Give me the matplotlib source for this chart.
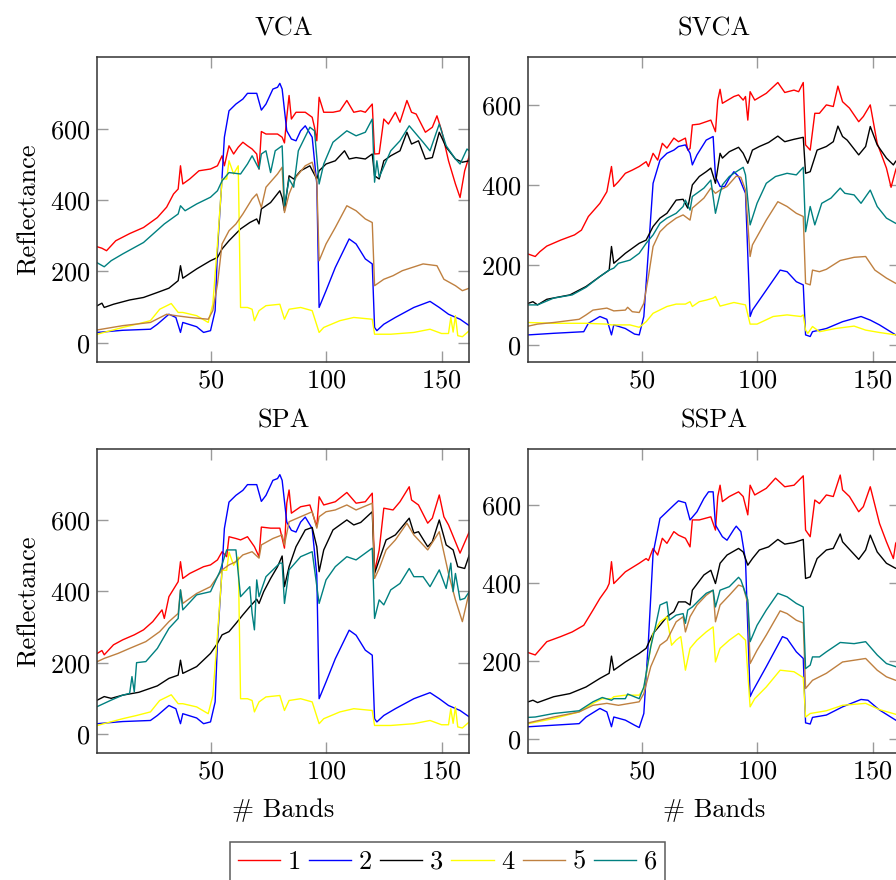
import matplotlib
matplotlib.use("Agg")
import matplotlib.pyplot as plt

# ---------------- data: (band, reflectance) ----------------
VCA_1 = [(1,269),(3,265),(5,258),(9,286),(15,306),(21,323),(27,351),(31,380),(34,417),(36,431),(37,496),(38,445),(41,459),(45,482),(50,487),(53,496),(55,524),(56,496),(58,552),(60,529),(62,548),(64,562),(66,552),(68,543),(70,529),(71,487),(72,592),(74,585),(79,585),(81,576),(82,560),(83,632),(84,693),(85,627),(87,646),(91,646),(94,632),(95,604),(96,566),(97,688),(99,646),(103,646),(106,650),(109,679),(112,646),(115,650),(117,646),(120,669),(121,529),(123,530),(125,627),(127,613),(130,646),(132,618),(135,679),(137,646),(139,641),(143,590),(146,604),(148,636),(150,595),(153,510),(156,445),(158,407),(160,482),(162,524)]
VCA_2 = [(1,29),(12,35),(24,38),(27,52),(32,80),(35,71),(37,29),(38,57),(44,45),(47,29),(50,34),(52,90),(53,258),(55,464),(56,576),(58,650),(61,669),(64,683),(66,699),(70,699),(72,652),(74,669),(77,711),(79,716),(80,727),(81,711),(83,594),(85,571),(87,566),(89,594),(91,608),(94,576),(96,445),(97,99),(100,146),(104,211),(110,291),(113,277),(117,235),(120,221),(121,43),(122,34),(125,52),(130,71),(138,99),(145,116),(149,99),(153,80),(158,66),(162,48)]
VCA_3 = [(1,104),(3,111),(4,99),(8,108),(15,120),(21,127),(27,141),(32,153),(36,174),(37,216),(38,181),(44,207),(50,230),(53,239),(55,263),(58,286),(63,319),(67,337),(70,347),(71,333),(72,375),(76,393),(80,426),(81,407),(82,370),(84,468),(86,459),(89,482),(93,496),(96,459),(97,482),(100,501),(104,510),(108,538),(110,515),(113,519),(117,515),(120,529),(121,468),(123,459),(125,510),(128,524),(132,538),(135,590),(137,557),(140,566),(143,515),(146,519),(149,590),(152,548),(156,515),(159,506),(162,510)]
VCA_4 = [(1,24),(12,43),(18,52),(24,62),(28,94),(33,110),(36,85),(38,85),(44,76),(49,57),(51,108),(53,277),(55,459),(57,459),(58,510),(60,473),(62,496),(63,99),(66,99),(68,94),(69,62),(71,90),(74,104),(80,108),(82,66),(84,94),(89,99),(94,90),(97,29),(99,43),(106,62),(112,71),(120,66),(121,24),(128,24),(138,29),(145,38),(150,26),(153,26),(154,71),(155,30),(156,76),(157,20),(159,17),(162,34)]
VCA_5 = [(1,36),(12,48),(24,57),(31,80),(35,76),(41,71),(49,66),(51,90),(53,164),(55,277),(58,314),(61,333),(64,361),(68,403),(70,417),(72,379),(74,436),(79,473),(81,492),(82,365),(84,417),(87,464),(91,496),(94,506),(96,454),(97,230),(100,277),(104,323),(109,384),(113,370),(117,347),(120,337),(121,160),(125,178),(129,188),(133,202),(142,221),(148,216),(151,178),(156,160),(159,146),(162,153)]
VCA_6 = [(1,224),(4,213),(7,230),(12,249),(21,281),(30,333),(36,361),(37,384),(39,370),(44,389),(50,408),(53,426),(55,454),(58,477),(63,473),(66,501),(68,524),(71,487),(72,529),(74,538),(76,477),(78,538),(81,552),(82,384),(84,459),(86,436),(88,538),(93,604),(95,594),(97,445),(99,501),(103,562),(109,594),(113,580),(117,590),(120,627),(121,450),(122,510),(123,464),(128,538),(132,566),(136,608),(139,585),(142,562),(145,538),(149,613),(152,552),(156,515),(158,501),(161,543),(162,538)]

SVCA_1 = [(1,228),(4,222),(6,234),(9,248),(15,263),(21,276),(24,288),(27,322),(32,355),(35,384),(37,447),(38,397),(40,409),(43,430),(46,438),(49,447),(52,459),(53,447),(55,480),(57,463),(59,505),(61,493),(64,518),(66,509),(69,518),(70,488),(71,492),(72,551),(75,553),(78,559),(80,563),(82,534),(83,613),(84,640),(85,605),(90,622),(92,626),(94,613),(95,622),(96,563),(97,634),(99,613),(104,630),(109,657),(112,632),(116,638),(118,634),(120,657),(121,501),(123,488),(125,580),(127,580),(130,601),(133,597),(135,648),(137,609),(140,593),(144,559),(146,572),(149,601),(152,505),(156,443),(158,395),(160,438),(162,470)]
SVCA_2 = [(1,26),(12,30),(25,34),(27,55),(32,72),(35,65),(37,26),(38,51),(43,42),(47,28),(49,26),(51,72),(53,238),(55,405),(58,463),(61,480),(64,488),(66,497),(69,501),(71,480),(72,451),(74,476),(78,513),(81,522),(82,422),(84,397),(86,397),(88,418),(90,434),(92,422),(95,380),(97,72),(98,88),(104,138),(110,188),(113,184),(117,159),(120,151),(121,26),(123,22),(124,34),(130,42),(137,59),(145,72),(149,63),(153,51),(160,26),(162,24)]
SVCA_3 = [(1,105),(3,109),(5,101),(9,115),(19,126),(26,147),(32,172),(36,188),(37,247),(38,205),(43,230),(49,255),(52,263),(55,297),(58,318),(61,330),(65,363),(68,365),(70,343),(72,401),(75,422),(78,434),(80,443),(82,405),(84,480),(85,468),(88,484),(92,495),(94,480),(96,455),(98,488),(101,497),(105,507),(109,523),(112,509),(116,515),(120,520),(121,430),(123,434),(126,488),(130,497),(133,509),(135,548),(137,522),(139,513),(144,476),(147,497),(149,547),(152,501),(156,468),(159,451),(160,460),(162,470)]
SVCA_4 = [(1,57),(12,55),(26,55),(35,53),(37,51),(45,51),(49,45),(52,59),(55,80),(61,97),(65,103),(69,103),(71,109),(72,97),(75,109),(78,113),(81,118),(82,122),(84,98),(90,107),(95,101),(97,53),(100,53),(107,72),(113,76),(119,72),(120,76),(121,38),(122,30),(124,47),(127,34),(134,42),(142,48),(147,38),(153,32),(160,26),(162,24)]
SVCA_5 = [(1,48),(5,53),(12,57),(23,65),(26,76),(29,88),(35,93),(38,86),(43,88),(44,95),(46,84),(49,82),(51,105),(53,172),(55,247),(58,284),(61,301),(65,318),(68,326),(71,313),(72,343),(77,368),(80,393),(82,380),(84,388),(87,397),(91,423),(93,420),(95,388),(97,222),(98,251),(104,313),(109,359),(113,347),(117,330),(120,322),(121,155),(123,151),(124,188),(127,184),(130,190),(136,212),(142,220),(147,222),(151,188),(156,168),(160,155),(162,150)]
SVCA_6 = [(1,101),(5,101),(12,118),(20,126),(26,145),(32,172),(36,188),(38,193),(40,205),(45,213),(49,230),(52,255),(55,276),(58,305),(61,318),(65,330),(68,347),(69,363),(71,338),(72,372),(77,393),(80,413),(82,330),(84,380),(85,401),(88,422),(91,434),(94,445),(95,426),(97,301),(100,355),(104,405),(108,422),(113,430),(117,426),(120,445),(121,284),(123,347),(125,301),(128,355),(132,368),(136,393),(138,380),(142,376),(145,355),(149,388),(152,347),(156,318),(160,305),(162,300)]

SPA_1 = [(1,226),(3,234),(4,222),(8,250),(12,264),(17,278),(21,292),(25,315),(29,348),(30,324),(32,385),(36,427),(37,483),(38,436),(41,450),(47,469),(50,474),(53,488),(55,511),(57,497),(58,553),(61,548),(63,544),(66,553),(69,525),(71,497),(72,580),(76,577),(80,577),(82,521),(83,647),(84,684),(85,619),(89,637),(93,642),(96,581),(97,665),(99,642),(104,651),(109,677),(113,647),(117,651),(120,675),(121,455),(123,516),(125,633),(129,628),(132,651),(136,693),(137,656),(140,642),(144,591),(146,605),(149,670),(151,609),(153,586),(158,507),(162,567)]
SPA_2 = VCA_2
SPA_3 = [(1,95),(4,105),(7,100),(12,109),(19,117),(27,135),(32,156),(36,165),(37,207),(38,170),(44,189),(50,226),(53,254),(55,278),(58,287),(61,310),(64,334),(67,357),(70,378),(71,366),(73,399),(76,436),(79,469),(81,499),(82,413),(84,469),(87,525),(91,572),(94,579),(96,525),(97,455),(99,516),(103,572),(109,600),(112,586),(115,593),(120,623),(121,450),(123,488),(126,544),(130,558),(136,605),(138,563),(140,567),(144,525),(146,539),(149,600),(152,530),(155,516),(157,469),(160,464),(162,502)]
SPA_4 = VCA_4
SPA_5 = [(1,203),(4,212),(10,226),(15,240),(22,259),(28,287),(32,315),(36,338),(37,404),(38,366),(44,394),(50,413),(55,460),(58,474),(61,483),(64,502),(68,511),(71,493),(72,530),(77,548),(81,558),(82,530),(84,595),(89,609),(94,623),(96,577),(97,609),(100,623),(104,628),(109,642),(113,628),(120,647),(121,436),(123,464),(126,516),(130,544),(135,591),(138,558),(144,516),(149,567),(153,450),(156,376),(159,315),(162,399)]
SPA_6 = [(1,77),(7,95),(12,109),(15,114),(16,161),(17,118),(18,200),(22,203),(27,240),(32,296),(36,324),(37,404),(38,348),(44,390),(50,399),(54,455),(57,516),(61,516),(63,385),(67,413),(68,338),(69,292),(70,432),(71,385),(74,441),(80,479),(81,479),(82,366),(84,460),(89,497),(94,511),(97,366),(100,432),(104,469),(109,497),(113,488),(120,521),(121,324),(123,376),(125,362),(128,404),(132,422),(136,464),(138,441),(142,441),(145,413),(149,460),(152,408),(154,479),(155,399),(156,450),(158,376),(160,380),(162,399)]

SSPA_1 = [(1,221),(4,215),(9,249),(15,262),(20,274),(25,291),(29,330),(32,360),(35,385),(36,398),(37,454),(38,398),(43,428),(49,450),(52,462),(53,457),(55,488),(57,471),(59,514),(61,501),(64,531),(66,522),(69,514),(71,492),(72,561),(75,561),(80,569),(82,535),(83,621),(84,650),(85,608),(88,621),(92,633),(94,621),(96,574),(97,650),(99,625),(104,642),(108,668),(112,646),(116,650),(120,674),(121,535),(123,518),(125,612),(127,603),(130,625),(133,621),(136,676),(137,638),(140,621),(144,582),(146,595),(149,646),(151,599),(153,552),(156,505),(159,462),(160,501),(162,520)]
SSPA_2 = [(1,31),(12,35),(23,39),(26,56),(32,78),(35,69),(37,31),(38,56),(43,48),(47,35),(49,29),(51,65),(53,253),(55,475),(58,565),(61,582),(64,599),(66,610),(69,605),(71,561),(74,582),(77,616),(79,633),(81,633),(82,548),(85,518),(87,509),(90,537),(91,545),(93,531),(95,458),(97,108),(98,121),(104,185),(111,262),(113,257),(117,223),(120,206),(121,41),(123,38),(124,55),(130,61),(137,82),(145,101),(148,99),(153,74),(160,48),(162,42)]
SSPA_3 = [(1,95),(3,99),(5,93),(12,108),(19,116),(26,133),(32,155),(36,168),(37,212),(38,176),(43,197),(49,219),(52,232),(55,270),(58,291),(61,313),(64,326),(66,351),(69,351),(71,343),(72,381),(77,420),(80,432),(82,398),(84,450),(87,471),(92,488),(94,479),(96,445),(98,462),(101,484),(105,492),(109,511),(112,499),(116,503),(120,511),(121,411),(123,415),(126,462),(130,484),(133,488),(136,525),(137,505),(139,492),(144,460),(147,484),(149,522),(152,479),(156,450),(160,437),(162,440)]
SSPA_4 = [(1,39),(12,52),(23,69),(29,91),(33,103),(37,103),(38,108),(43,112),(49,112),(51,129),(54,236),(55,270),(58,300),(61,313),(63,240),(65,253),(67,262),(69,176),(71,232),(74,253),(78,274),(81,287),(82,197),(84,232),(88,253),(92,270),(95,253),(97,82),(99,103),(104,133),(110,176),(116,172),(120,157),(121,56),(123,65),(130,72),(137,86),(147,91),(153,75),(160,63),(162,60)]
SSPA_5 = [(1,41),(12,56),(23,69),(29,86),(35,91),(40,86),(49,95),(51,116),(54,185),(58,240),(61,253),(65,300),(68,313),(69,274),(71,313),(74,343),(78,368),(81,381),(82,300),(84,343),(88,368),(92,394),(94,390),(96,347),(97,193),(100,227),(104,266),(110,328),(113,321),(117,304),(120,297),(121,129),(124,150),(130,168),(137,197),(147,206),(152,176),(156,159),(160,150),(162,148)]
SSPA_6 = [(1,55),(4,56),(12,65),(23,72),(29,95),(33,106),(37,99),(38,103),(43,103),(44,115),(49,103),(51,133),(54,236),(56,287),(58,343),(61,351),(62,304),(65,317),(68,321),(69,296),(70,330),(72,338),(75,356),(78,373),(81,381),(82,338),(84,381),(88,390),(92,414),(93,407),(96,356),(97,249),(100,291),(104,330),(109,373),(113,364),(117,347),(120,338),(121,180),(123,189),(124,210),(127,210),(130,223),(136,247),(142,244),(147,249),(152,215),(156,193),(160,185),(162,183)]

TITLES = ["VCA", "SVCA", "SPA", "SSPA"]
LABELS = ["1", "2", "3", "4", "5", "6"]
X_TICKS = [50, 100, 150]
Y_TICKS = [0, 200, 400, 600]

PANELS = {
    "VCA": [VCA_1, VCA_2, VCA_3, VCA_4, VCA_5, VCA_6],
    "SVCA": [SVCA_1, SVCA_2, SVCA_3, SVCA_4, SVCA_5, SVCA_6],
    "SPA": [SPA_1, SPA_2, SPA_3, SPA_4, SPA_5, SPA_6],
    "SSPA": [SSPA_1, SSPA_2, SSPA_3, SSPA_4, SSPA_5, SSPA_6],
}

# ---------------- style ----------------
COLORS = ["#ff0000", "#0000ff", "#000000", "#ffff00", "#bf8040", "#008080"]
YLIMS = {"VCA": (-53, 800), "SVCA": (-41, 720), "SPA": (-54, 798), "SSPA": (-37, 742)}
W, H = 896, 880
# axes boxes in pixels: left, top, right, bottom
BOXES = {
    "VCA": (97.3, 57.3, 469.3, 361.7),
    "SVCA": (528.3, 57.3, 900.3, 361.7),
    "SPA": (97.3, 449.3, 469.3, 753.3),
    "SSPA": (528.3, 449.3, 900.3, 753.3),
}

plt.rcParams["font.family"] = ["cmr10", "DejaVu Serif"]
plt.rcParams["mathtext.fontset"] = "cm"
plt.rcParams["axes.formatter.use_mathtext"] = True
FS = 19

fig = plt.figure(figsize=(W / 100, H / 100), dpi=100)
handles = []
for name in TITLES:
    l, t, r, b = BOXES[name]
    ax = fig.add_axes([l / W, 1 - b / H, (r - l) / W, (b - t) / H])
    for i, curve in enumerate(PANELS[name]):
        xs = [p[0] for p in curve]
        ys = [p[1] for p in curve]
        ln, = ax.plot(xs, ys, color=COLORS[i], lw=1.0, label=LABELS[i])
        if name == "VCA":
            handles.append(ln)
    ax.set_xlim(1, 162)
    ax.set_ylim(*YLIMS[name])
    ax.set_xticks(X_TICKS)
    ax.set_yticks(Y_TICKS)
    ax.tick_params(direction="in", length=8, width=1.0, color="#9a9a9a",
                   top=True, right=True, labelsize=FS, pad=5)
    for sp in ax.spines.values():
        sp.set_color("#333333")
        sp.set_linewidth(1.1)
    ax.set_title(name, fontsize=FS, pad=16)
    if name in ("VCA", "SPA"):
        ax.set_ylabel("Reflectance", fontsize=FS, labelpad=7)
    if name in ("SPA", "SSPA"):
        ax.set_xlabel("# Bands", fontsize=FS, labelpad=10)

leg = fig.legend(handles=handles, labels=LABELS, loc="upper center",
                 bbox_to_anchor=(447.5 / W, 1 - 842.3 / H), ncol=6,
                 fontsize=FS, frameon=True, fancybox=False, borderaxespad=0,
                 handlelength=1.6, handletextpad=0.3, columnspacing=0.3,
                 borderpad=0.3)
leg.get_frame().set_edgecolor("#333333")
leg.get_frame().set_linewidth(1.1)

fig.savefig("out.png", dpi=100)
